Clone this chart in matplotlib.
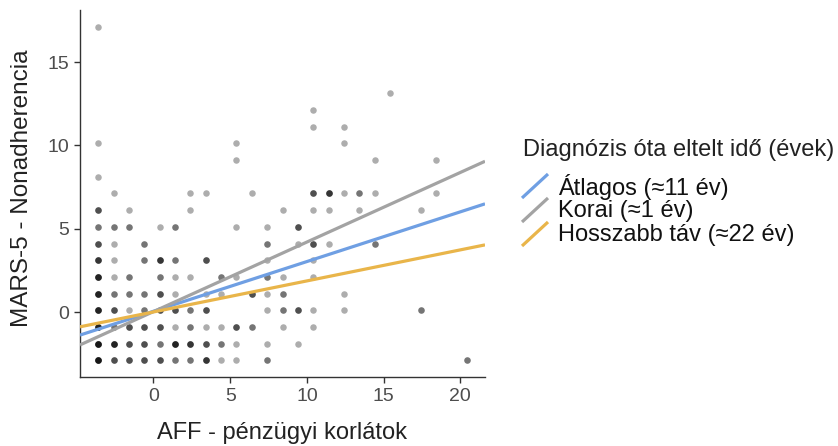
import numpy as np
import matplotlib
matplotlib.use("Agg")
import matplotlib.pyplot as plt
from matplotlib.lines import Line2D

# ---------------- data ----------------
# raw scores (AFF financial constraints, MARS-5 nonadherence) and number of overlapping observations
aff_raw = [0, 19, 14, 14, 16, 0, 9, 16, 9, 18, 22, 0,
           1, 6, 7, 10, 14, 15, 16, 17, 18, 22,
           0, 2, 6, 12, 14, 15, 17, 21,
           0, 1, 2, 4, 5, 9, 11, 13,
           0, 1, 3, 11, 13, 14, 15, 18,
           0, 1, 3, 4, 5, 7, 11, 14,
           0, 1, 2, 4, 5, 6, 8, 9, 11, 12, 14,
           0, 1, 2, 3, 4, 5, 7, 8, 10, 11, 12, 16,
           0, 1, 2, 3, 4, 5, 6, 7, 11, 12, 13, 14, 16, 21,
           0, 1, 2, 3, 4, 5, 6, 7, 8, 9, 10, 12, 14,
           0, 1, 2, 3, 4, 5, 6, 7, 8, 9, 11, 13,
           0, 1, 2, 3, 4, 5, 6, 7, 8, 9, 11, 24]
mars_raw = [20, 16, 15, 14, 14, 13, 13, 13, 12, 12, 12, 11,
            10, 10, 10, 10, 10, 10, 10, 10, 10, 10,
            9, 9, 9, 9, 9, 9, 9, 9,
            8, 8, 8, 8, 8, 8, 8, 8,
            7, 7, 7, 7, 7, 7, 7, 7,
            6, 6, 6, 6, 6, 6, 6, 6,
            5, 5, 5, 5, 5, 5, 5, 5, 5, 5, 5,
            4, 4, 4, 4, 4, 4, 4, 4, 4, 4, 4, 4,
            3, 3, 3, 3, 3, 3, 3, 3, 3, 3, 3, 3, 3, 3,
            2, 2, 2, 2, 2, 2, 2, 2, 2, 2, 2, 2, 2,
            1, 1, 1, 1, 1, 1, 1, 1, 1, 1, 1, 1,
            0, 0, 0, 0, 0, 0, 0, 0, 0, 0, 0, 0]
counts = [1, 1, 1, 1, 1, 1, 1, 1, 1, 1, 1, 1,
          1, 1, 1, 1, 3, 4, 1, 2, 1, 1,
          3, 1, 1, 1, 1, 1, 1, 1,
          2, 2, 2, 1, 2, 1, 1, 3,
          3, 1, 2, 2, 1, 3, 1, 2,
          4, 1, 2, 4, 2, 3, 1, 1,
          5, 1, 2, 2, 1, 1, 2, 1, 2, 1, 1,
          5, 2, 2, 2, 3, 1, 1, 1, 3, 1, 2, 1,
          5, 3, 1, 2, 3, 3, 2, 3, 1, 2, 3, 1, 1, 2,
          5, 2, 3, 3, 3, 1, 2, 1, 1, 3, 2, 1, 1,
          6, 5, 3, 3, 2, 5, 4, 3, 2, 1, 1, 1,
          6, 3, 3, 3, 3, 2, 2, 4, 1, 1, 2, 2]
aff_mean = 3.59
mars_mean = 2.88

# simple slopes by time since diagnosis
groups = ["Átlagos (≈11 év)", "Korai (≈1 év)", "Hosszabb táv (≈22 év)"]
slopes = [0.298, 0.417, 0.186]
intercepts = [0.06, 0.04, 0.02]
colors = ["#6f9fe3", "#a3a3a3", "#e9b54a"]

legend_title = "Diagnózis óta eltelt idő (évek)"
xlabel = "AFF - pénzügyi korlátok"
ylabel = "MARS-5 - Nonadherencia"
xticks = [0, 5, 10, 15, 20]
yticks = [0, 5, 10, 15]

# ---------------- figure ----------------
plt.rcParams['font.family'] = ['Liberation Sans', 'DejaVu Sans']
W, H = 838, 446
fig = plt.figure(figsize=(W / 100, H / 100), dpi=100)

def fx(p):
    return p / W

def fy(p):
    return 1 - p / H

ax = fig.add_axes([fx(80), fy(377), fx(485) - fx(80), fy(10) - fy(377)])

x = np.repeat(np.array(aff_raw, float) - aff_mean, counts)
y = np.repeat(np.array(mars_raw, float) - mars_mean, counts)
ax.scatter(x, y, s=22, c="black", alpha=0.32, linewidths=0, zorder=2)

xr = (x.max() - x.min()) * 0.05
yr = (y.max() - y.min()) * 0.05
xlim = (x.min() - xr, x.max() + xr)
ylim = (y.min() - yr, y.max() + yr)
xs = np.array(xlim)
for b, a, c in zip(slopes, intercepts, colors):
    ax.plot(xs, a + b * xs, color=c, lw=2.3, solid_capstyle="butt", zorder=3)
ax.set_xlim(*xlim)
ax.set_ylim(*ylim)

ax.set_xticks(xticks)
ax.set_yticks(yticks)
for s in ["top", "right"]:
    ax.spines[s].set_visible(False)
for s in ["left", "bottom"]:
    ax.spines[s].set_color("#333333")
    ax.spines[s].set_linewidth(1.0)
ax.tick_params(axis="both", length=4, width=1, color="#333333",
               labelsize=14, labelcolor="#4d4d4d", pad=4)

fig.text(fx(282), fy(433), xlabel, ha="center", va="center", fontsize=17, color="#222222")
fig.text(fx(22), fy(188), ylabel, ha="center", va="center", rotation=90, fontsize=17.5, color="#222222")

# legend
fig.text(fx(523), fy(150), legend_title, ha="left", va="center", fontsize=17, color="#222222")
row_c = [187, 211, 235]
for lab, c, yc in zip(groups, colors, row_c):
    fig.add_artist(Line2D([fx(522), fx(548)], [fy(yc + 11), fy(yc - 13)],
                          color=c, lw=2.3, solid_capstyle="butt"))
    fig.text(fx(558), fy(yc), lab, ha="left", va="center", fontsize=17, color="#111111")

fig.savefig("out.png", dpi=100)
